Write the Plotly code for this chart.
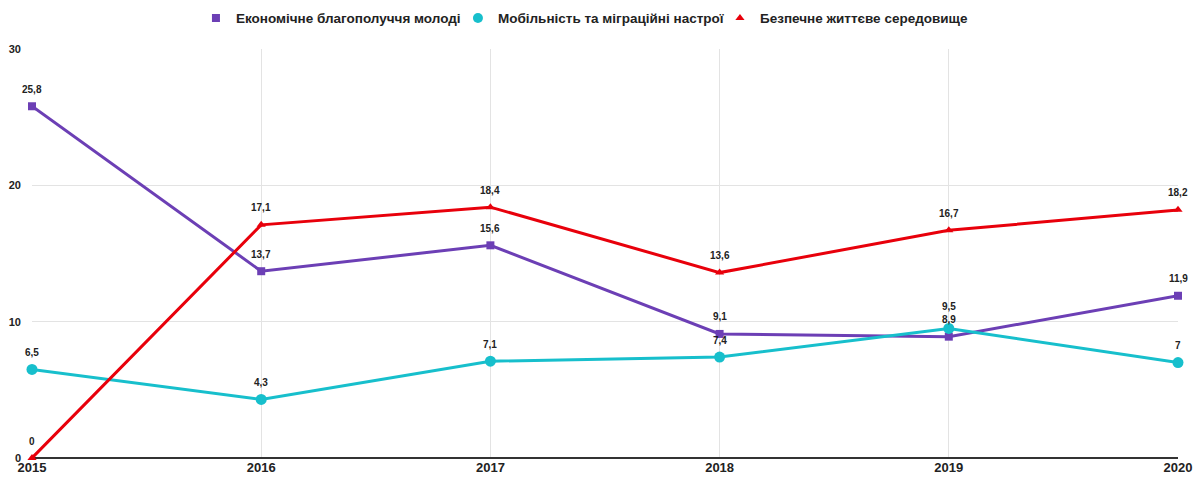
import plotly.graph_objects as go

years = [2015, 2016, 2017, 2018, 2019, 2020]
econ = [25.8, 13.7, 15.6, 9.1, 8.9, 11.9]
mobil = [6.5, 4.3, 7.1, 7.4, 9.5, 7.0]
safe = [0, 17.1, 18.4, 13.6, 16.7, 18.2]

names = ["Економічне благополуччя молоді", "Мобільність та міграційні настрої", "Безпечне життєве середовище"]
colors = ["#6c3fb5", "#17bfcc", "#e8000b"]
symbols = ["square", "circle", "triangle-up"]
sizes = [8, 11, 8]
legend_sizes = [8, 10, 8]


def fmt(v):
    return ("%g" % v).replace(".", ",")


fig = go.Figure()
series = [econ, mobil, safe]
for vals, name, col, sym, sz, lsz in zip(series, names, colors, symbols, sizes, legend_sizes):
    fig.add_trace(go.Scatter(
        x=years, y=vals, name=name, mode="lines+markers", showlegend=False,
        line=dict(color=col, width=3),
        marker=dict(color=col, symbol=sym, size=sz),
        cliponaxis=False,
    ))
    # legend entry: marker only
    fig.add_trace(go.Scatter(
        x=[None], y=[None], name=name, mode="markers",
        marker=dict(color=col, symbol=sym, size=lsz),
    ))

# data labels
for si, vals in enumerate(series):
    for x, v in zip(years, vals):
        shift = 17
        if si == 1 and x == 2019:
            shift = 22
        fig.add_annotation(
            x=x, y=v, text=fmt(v), showarrow=False, yshift=shift,
            font=dict(family="Liberation Sans, Arial", size=10, color="#222222", weight="bold"),
        )

fig.update_layout(
    width=1194, height=478,
    margin=dict(l=32, r=16, t=49, b=20),
    plot_bgcolor="white", paper_bgcolor="white",
    font=dict(family="Liberation Sans, Arial", color="#222222"),
    showlegend=True,
    legend=dict(orientation="h", x=0.486, xanchor="center", y=0.962, yanchor="middle",
                yref="container", font=dict(size=13.5, weight="bold", color="#222222"),
                itemwidth=30, traceorder="normal",
                entrywidth=217, entrywidthmode="pixels"),
    xaxis=dict(range=[2015, 2020], tickvals=years, ticktext=[str(y) for y in years],
               showgrid=True, gridcolor="#e3e3e3", gridwidth=1, zeroline=False,
               tickfont=dict(size=13, weight="bold", color="#222222"), ticks="",
               showline=False, automargin=False),
    yaxis=dict(range=[0, 30], tickvals=[0, 10, 20, 30], showgrid=True, gridcolor="#e3e3e3",
               zeroline=True, zerolinecolor="#333333", zerolinewidth=1.5,
               tickfont=dict(size=11, weight="bold", color="#222222"), ticks="",
               ticklabelstandoff=10, automargin=False),
)

fig.write_html("out.html", config={"displayModeBar": False},
               post_script="document.body.style.margin='0';")
